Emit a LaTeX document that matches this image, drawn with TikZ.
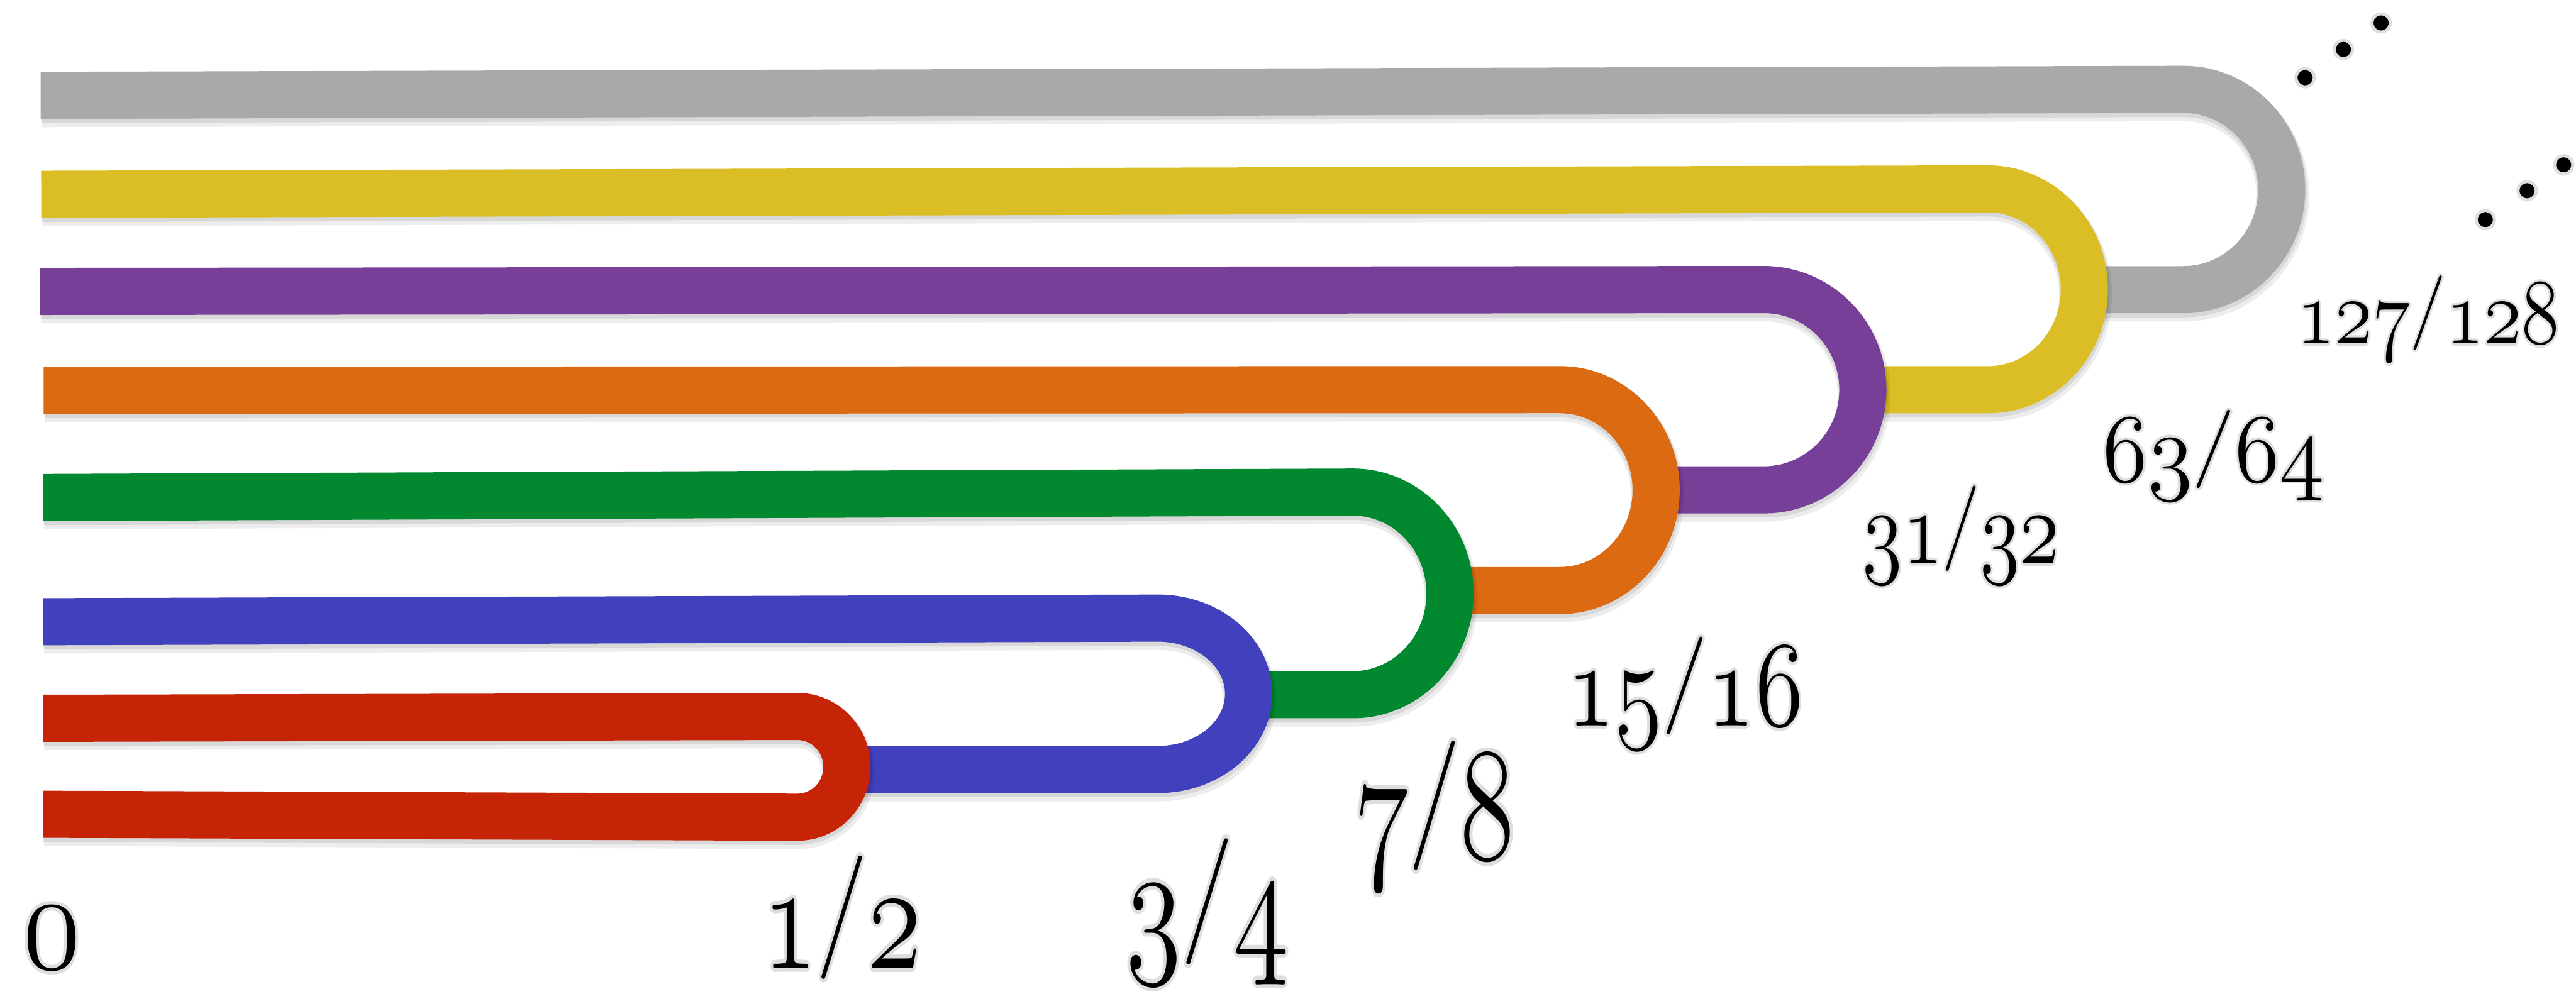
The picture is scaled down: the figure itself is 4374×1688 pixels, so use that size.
\documentclass[tikz,border=0pt]{standalone}
\usepackage{graphicx}
\usepackage{contour}
\contourlength{0.6pt}
\contournumber{16}
\definecolor{cgray}{RGB}{167,170,169}
\definecolor{cyellow}{RGB}{219,190,37}
\definecolor{cpurple}{RGB}{119,63,152}
\definecolor{corange}{RGB}{220,106,18}
\definecolor{cgreen}{RGB}{2,136,47}
\definecolor{cblue}{RGB}{65,64,189}
\definecolor{cred}{RGB}{198,36,7}
\newcommand\osn[1]{{\usefont{OML}{cmm}{m}{it}#1}}
\newcommand\slsh{\raisebox{0.13em}{\scalebox{1}[0.8]{/}}}
\newcommand\frc[2]{\contour{black!13}{\osn{#1}\slsh\osn{#2}}}
\tikzset{
  band/.style={line width=0.8cm, line cap=butt, line join=round,
    preaction={draw=black, opacity=0.07, line width=0.9cm, transform canvas={shift={(2,9)}}},
    preaction={draw=black, opacity=0.09, line width=0.84cm, transform canvas={shift={(1,5)}}}},
  lbl/.style={anchor=base, inner sep=0pt, font=\fontsize{24.88}{30}\selectfont},
  dotmark/.style={circle, fill=black, draw=black!13, line width=1.5pt, inner sep=0pt, minimum size=0.31cm}
}
\begin{document}
\begin{tikzpicture}[x=0.01cm, y=-0.01cm]
\useasboundingbox (0,0) rectangle (4374,1688);
% gray
\draw[band, cgray] (3539,492) -- (3707,492) arc[start angle=-90, end angle=90, x radius=1.67cm, y radius=1.70cm] -- (69,162);
% yellow
\draw[band, cyellow] (3163,662) -- (3375,662) arc[start angle=-90, end angle=90, x radius=1.64cm, y radius=1.705cm] -- (70,330);
% purple
\draw[band, cpurple] (2812,832) -- (2995,832) arc[start angle=-90, end angle=90, x radius=1.68cm, y radius=1.70cm] -- (68,495);
% orange
\draw[band, corange] (2460,1003) -- (2648,1003) arc[start angle=-90, end angle=90, x radius=1.64cm, y radius=1.705cm] -- (74,663);
% green
\draw[band, cgreen] (2110,1180) -- (2297,1180) arc[start angle=-90, end angle=90, x radius=1.65cm, y radius=1.72cm] -- (73,845);
% blue
\draw[band, cblue] (1430,1307) -- (1966,1307) arc[start angle=-90, end angle=90, x radius=1.54cm, y radius=1.285cm] -- (73,1056);
% red
\draw[band, cred] (73,1383) -- (1354,1388) arc[start angle=-90, end angle=90, x radius=0.84cm, y radius=0.855cm] -- (73,1220);
% labels
\node[lbl] (l0) at (88,1645) {\scalebox{2.3}[2.74]{\contour{black!13}{\osn{0}}}};
\node[lbl] (l1) at (1430,1645) {\scalebox{2.15}[3.0]{\frc{1}{2}}};
\node[lbl] (l2) at (2050,1620) {\scalebox{2.2}[3.07]{\frc{3}{4}}};
\node[lbl] (l3) at (2436,1459) {\scalebox{2.17}[3.14]{\frc{7}{8}}};
\node[lbl] (l4) at (2861,1233) {\scalebox{1.9}[2.37]{\frc{15}{16}}};
\node[lbl] (l5) at (3330,957) {\scalebox{1.58}[2.07]{\frc{31}{32}}};
\node[lbl] (l6) at (3759,818) {\scalebox{1.78}[1.9]{\frc{63}{64}}};
\node[lbl] (l7) at (4123,584) {\scalebox{1.5}[1.81]{\frc{127}{128}}};
% dots
\node[dotmark] (d1) at (3914,132) {};
\node[dotmark] (d2) at (3979,84) {};
\node[dotmark] (d3) at (4043,39) {};
\node[dotmark] (d4) at (4220,373) {};
\node[dotmark] (d5) at (4291,324) {};
\node[dotmark] (d6) at (4353,280) {};
\end{tikzpicture}
\end{document}
